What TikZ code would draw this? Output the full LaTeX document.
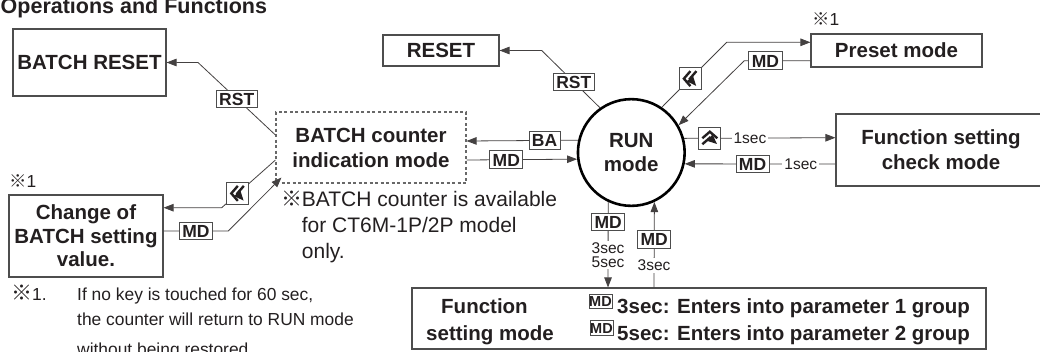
\documentclass[tikz,border=0pt]{standalone}
\usepackage{fontspec}
\setmainfont{Liberation Sans}
\newfontfamily\cjkf{Noto Sans CJK JP}
\usetikzlibrary{arrows.meta,calc}
\definecolor{ink}{HTML}{231F20}
\definecolor{edge}{HTML}{4D4D4D}
\newcommand\fbig{\fontsize{20.5}{25}\selectfont\bfseries}
\newcommand\fkey{\fontsize{17.5}{20}\selectfont\bfseries}
\newcommand\fnote{\fontsize{21}{25.5}\selectfont}
\newcommand\fsmall{\fontsize{17.4}{25}\selectfont}
\newcommand\fsec{\fontsize{15.5}{14.5}\selectfont}
\newcommand\refm{{\cjkf ※}}
\newcommand\refmbig{{\fontsize{21}{25}\selectfont\cjkf ※}}
\begin{document}
\begin{tikzpicture}[x=1pt,y=-1pt,
  box/.style={draw=edge, line width=1.1pt, inner sep=0pt, align=center, font=\fbig, text=ink},
  keylab/.style={draw=edge, line width=0.9pt, fill=white, font=\fkey, text=ink, inner xsep=3pt, inner ysep=2.5pt, text height=12.6pt, text depth=0pt},
  smallkey/.style={draw=edge, line width=0.8pt, fill=white, font=\fontsize{14.5}{14.5}\selectfont\bfseries, text=ink, inner xsep=0.3pt, inner ysep=2pt, text height=10.5pt, text depth=0pt},
  chevbox/.style={draw=edge, line width=0.9pt, fill=white, minimum size=22pt, inner sep=0pt},
  chevleft/.style={chevbox, path picture={\begin{scope}[shift={(path picture bounding box.center)}]
      \draw[ink, line width=2.4pt, line join=miter] (0pt,7.5pt) -- (-6.5pt,0pt) -- (0pt,-7.5pt) (6pt,7.5pt) -- (-0.5pt,0pt) -- (6pt,-7.5pt);
      \end{scope}}},
  chevup/.style={chevbox, path picture={\begin{scope}[shift={(path picture bounding box.center)}]
      \draw[ink, line width=2.4pt, line join=miter] (-7.5pt,0pt) -- (0pt,6.5pt) -- (7.5pt,0pt) (-7.5pt,-6pt) -- (0pt,0.5pt) -- (7.5pt,-6pt);
      \end{scope}}},
  wire/.style={draw=ink!85, line width=0.8pt},
  arr/.style={wire, -{Triangle[length=10pt,width=7.5pt]}},
  sectext/.style={fill=white, font=\fsec, text=ink, inner sep=2pt, align=center},
  plain/.style={anchor=base west, inner sep=0pt, text=ink}
]
\useasboundingbox (0,0) rectangle (1040,351);

% title
\node[plain, font=\fontsize{21.5}{25}\selectfont\bfseries] (title) at (0.5,13.5) {Operations and Functions};

% boxes
\node[box, minimum width=153pt, minimum height=67pt] (bres) at (89.5,62.5) {BATCH RESET};
\node[box, minimum width=116pt, minimum height=31pt] (reset) at (441,50.5) {RESET};
\node[box, minimum width=171pt, minimum height=33pt] (preset) at (896.5,50.5) {Preset mode};
\node[box, minimum width=210pt, minimum height=72pt] (fcheck) at (941,150) {Function setting\\check mode};
\node[box, draw=edge!85, dash pattern=on 3pt off 2.5pt, minimum width=190pt, minimum height=71pt] (bind) at (371,147.5) {BATCH counter\\indication mode};
\node[circle, draw=black, line width=2.6pt, minimum size=106.7pt, inner sep=0pt, align=center, font=\fontsize{20.5}{23.5}\selectfont\bfseries, text=ink] (run) at (631.3,152.5) {RUN\\mode};
\node[box, minimum width=154pt, minimum height=82pt, font=\fontsize{20.5}{23.5}\selectfont\bfseries] (chg) at (86,236) {Change of\\BATCH setting\\value.};
\node[box, minimum width=574pt, minimum height=61pt] (fset) at (699,318.5) {};

% function setting mode contents
\node[plain, font=\fbig] (fs1) at (441,313.3) {Function};
\node[plain, font=\fbig] (fs2) at (426,340) {setting mode};
\node[smallkey] (fk1) at (600.5,301.3) {MD};
\node[smallkey] (fk2) at (601.5,328) {MD};
\node[plain, font=\fbig] (ft1) at (617,313.3) {3sec: Enters into parameter 1 group};
\node[plain, font=\fbig] (ft2) at (617,340) {5sec: Enters into parameter 2 group};

% notes
\node[plain, font=\fsmall] (m1) at (9,187) {\refm 1};
\node[plain, font=\fsmall] (m2) at (812,25) {\refm 1};
\node[plain, font=\fnote] (nm) at (281,206.7) {\refm};
\node[plain, font=\fnote] (n1) at (301.7,206.7) {BATCH counter is available};
\node[plain, font=\fnote] (n2) at (301.7,232.5) {for CT6M-1P/2P model};
\node[plain, font=\fnote] (n3) at (301.7,258.3) {only.};
\node[plain, font=\fsmall] (fm) at (11,300.7) {\refmbig 1.};
\node[plain, font=\fsmall] (f1) at (77,300.7) {If no key is touched for 60 sec,};
\node[plain, font=\fsmall] (f2) at (77,325.7) {the counter will return to RUN mode};
\node[plain, font=\fsmall] (f3) at (77,355) {without being restored.};

% bend points
\coordinate (b1) at (198,62.5);
\coordinate (b2) at (221.7,207.7);
\coordinate (b3) at (228.3,231);
\coordinate (b4) at (541.7,50.5);
\coordinate (b5) at (726.7,42.3);
\coordinate (b6) at (744.3,60.7);

% connectors
\draw[arr] ([yshift=12.5pt]bind.west) -- node[keylab, pos=0.5] (lrst1) {RST} (b1) -- (bres.east);
\draw[arr] ([yshift=-12.5pt]bind.west) -- node[chevleft, pos=0.7] (lch1) {} (b2) -- ([yshift=28.3pt]chg.east);
\draw[arr] ([yshift=5pt]chg.east) -- node[keylab] (lmd1) {MD} (b3) -- ([shift={(6pt,6pt)}]bind.south west);
\draw[arr] (run.167.8) -- node[keylab, pos=0.3] (lba) {BA} ([yshift=6.5pt]bind.east);
\draw[arr] ([yshift=-12.5pt]bind.east) -- node[keylab, pos=0.36] (lmd2) {MD} (run.187.9);
\draw[arr] (run.125.1) -- node[keylab, pos=0.45] (lrst2) {RST} (b4) -- (reset.east);
\draw[arr] (run.56.1) -- node[chevleft, pos=0.44] (lch2) {} (b5) -- ([yshift=8.2pt]preset.west);
\draw[arr] ([yshift=-10.2pt]preset.west) -- node[keylab, pos=0.68] (lmd3) {MD} (b6) -- (run.30.1);
\draw[arr] (run.15.8) -- node[chevup, pos=0.17] (lup) {} node[sectext, pos=0.435] (s1) {1sec} ([yshift=12.3pt]fcheck.west);
\draw[arr] ([yshift=-14pt]fcheck.west) -- node[sectext, pos=0.23] (s2) {1sec} node[keylab, pos=0.55] (lmd4) {MD} (run.-12.2);
\draw[arr] (run.-115.3) -- node[keylab, pos=0.234] (lmd5) {MD} node[sectext, pos=0.62, inner ysep=1pt] (s3) {3sec\\5sec} ([xshift=-91pt]fset.north);
\draw[arr] ([xshift=-45pt]fset.north) -- node[sectext, pos=0.256] (s4) {3sec} node[keylab, pos=0.56] (lmd6) {MD} (run.-65.4);
\end{tikzpicture}
\end{document}
